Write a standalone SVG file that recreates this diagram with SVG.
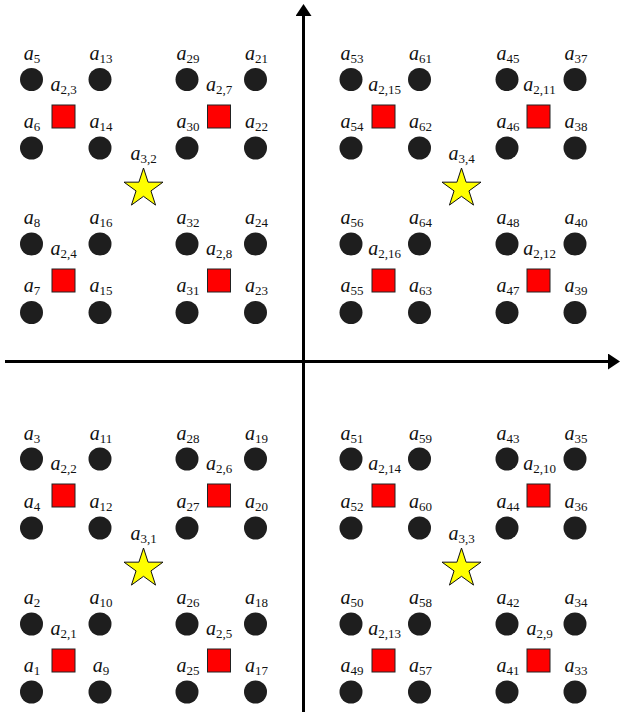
<svg xmlns="http://www.w3.org/2000/svg" xmlns:xlink="http://www.w3.org/1999/xlink" width="620" height="715" viewBox="0 0 620 715">
<style>
.pt{fill:#1e1e1e}
.sq{fill:#ff0000;stroke:#222;stroke-width:1}
.st{fill:#ffff00;stroke:#111;stroke-width:1;stroke-linejoin:miter}
text{font-family:"Liberation Serif","Times New Roman",serif;font-size:20px;fill:#111;text-anchor:middle}
.a{font-style:italic}
.s{font-size:13px}
.ax{stroke:#000;stroke-width:3;fill:none}
</style>
<defs>
<polygon id="star" class="st" points="0,-20.5 4.6,-6.33 19.5,-6.33 7.45,2.42 12.05,16.58 0,7.83 -12.05,16.58 -7.45,2.42 -19.5,-6.33 -4.6,-6.33"/>
<marker id="arr" viewBox="0 0 12 16" refX="0" refY="8" markerWidth="12" markerHeight="16" markerUnits="userSpaceOnUse" orient="auto"><path d="M0,0 L12,8 L0,16 Z" fill="#000"/></marker>
</defs>
<g id="connectors">
<line class="ax" x1="5" y1="361.5" x2="608" y2="361.5" marker-end="url(#arr)"/>
<line class="ax" x1="303.5" y1="712" x2="303.5" y2="16" marker-end="url(#arr)"/>
</g>
<!-- top-left quadrant -->
<g id="a5"><circle class="pt" cx="31.5" cy="79.5" r="11.5"/><text x="32" y="60"><tspan class="a">a</tspan><tspan class="s" dy="3">5</tspan></text></g>
<g id="a13"><circle class="pt" cx="100" cy="79.5" r="11.5"/><text x="101" y="60"><tspan class="a">a</tspan><tspan class="s" dy="3">13</tspan></text></g>
<g id="a6"><circle class="pt" cx="31.5" cy="148" r="11.5"/><text x="32" y="128"><tspan class="a">a</tspan><tspan class="s" dy="3">6</tspan></text></g>
<g id="a14"><circle class="pt" cx="100" cy="148" r="11.5"/><text x="101" y="128"><tspan class="a">a</tspan><tspan class="s" dy="3">14</tspan></text></g>
<g id="a8"><circle class="pt" cx="31.5" cy="244" r="11.5"/><text x="32" y="224"><tspan class="a">a</tspan><tspan class="s" dy="3">8</tspan></text></g>
<g id="a16"><circle class="pt" cx="100" cy="244" r="11.5"/><text x="101" y="224"><tspan class="a">a</tspan><tspan class="s" dy="3">16</tspan></text></g>
<g id="a7"><circle class="pt" cx="31.5" cy="312.5" r="11.5"/><text x="32" y="292"><tspan class="a">a</tspan><tspan class="s" dy="3">7</tspan></text></g>
<g id="a15"><circle class="pt" cx="100" cy="312.5" r="11.5"/><text x="101" y="292"><tspan class="a">a</tspan><tspan class="s" dy="3">15</tspan></text></g>
<g id="a2_3"><rect class="sq" x="52" y="105" width="23" height="23"/><text x="63.5" y="91"><tspan class="a">a</tspan><tspan class="s" dy="3">2,3</tspan></text></g>
<g id="a2_4"><rect class="sq" x="52" y="269" width="23" height="23"/><text x="63.5" y="255"><tspan class="a">a</tspan><tspan class="s" dy="3">2,4</tspan></text></g>
<g id="a29"><circle class="pt" cx="187" cy="79.5" r="11.5"/><text x="188" y="60"><tspan class="a">a</tspan><tspan class="s" dy="3">29</tspan></text></g>
<g id="a21"><circle class="pt" cx="255.5" cy="79.5" r="11.5"/><text x="256.5" y="60"><tspan class="a">a</tspan><tspan class="s" dy="3">21</tspan></text></g>
<g id="a30"><circle class="pt" cx="187" cy="148" r="11.5"/><text x="188" y="128"><tspan class="a">a</tspan><tspan class="s" dy="3">30</tspan></text></g>
<g id="a22"><circle class="pt" cx="255.5" cy="148" r="11.5"/><text x="256.5" y="128"><tspan class="a">a</tspan><tspan class="s" dy="3">22</tspan></text></g>
<g id="a32"><circle class="pt" cx="187" cy="244" r="11.5"/><text x="188" y="224"><tspan class="a">a</tspan><tspan class="s" dy="3">32</tspan></text></g>
<g id="a24"><circle class="pt" cx="255.5" cy="244" r="11.5"/><text x="256.5" y="224"><tspan class="a">a</tspan><tspan class="s" dy="3">24</tspan></text></g>
<g id="a31"><circle class="pt" cx="187" cy="312.5" r="11.5"/><text x="188" y="292"><tspan class="a">a</tspan><tspan class="s" dy="3">31</tspan></text></g>
<g id="a23"><circle class="pt" cx="255.5" cy="312.5" r="11.5"/><text x="256.5" y="292"><tspan class="a">a</tspan><tspan class="s" dy="3">23</tspan></text></g>
<g id="a2_7"><rect class="sq" x="207.5" y="105" width="23" height="23"/><text x="219" y="91"><tspan class="a">a</tspan><tspan class="s" dy="3">2,7</tspan></text></g>
<g id="a2_8"><rect class="sq" x="207.5" y="269" width="23" height="23"/><text x="219" y="255"><tspan class="a">a</tspan><tspan class="s" dy="3">2,8</tspan></text></g>
<g id="a3_2"><use xlink:href="#star" href="#star" x="143.5" y="188.5"/><text x="143.5" y="160"><tspan class="a">a</tspan><tspan class="s" dy="3">3,2</tspan></text></g>
<!-- top-right quadrant -->
<g id="a53"><circle class="pt" cx="351" cy="79.5" r="11.5"/><text x="352" y="60"><tspan class="a">a</tspan><tspan class="s" dy="3">53</tspan></text></g>
<g id="a61"><circle class="pt" cx="419.5" cy="79.5" r="11.5"/><text x="420.5" y="60"><tspan class="a">a</tspan><tspan class="s" dy="3">61</tspan></text></g>
<g id="a54"><circle class="pt" cx="351" cy="148" r="11.5"/><text x="352" y="128"><tspan class="a">a</tspan><tspan class="s" dy="3">54</tspan></text></g>
<g id="a62"><circle class="pt" cx="419.5" cy="148" r="11.5"/><text x="420.5" y="128"><tspan class="a">a</tspan><tspan class="s" dy="3">62</tspan></text></g>
<g id="a56"><circle class="pt" cx="351" cy="244" r="11.5"/><text x="352" y="224"><tspan class="a">a</tspan><tspan class="s" dy="3">56</tspan></text></g>
<g id="a64"><circle class="pt" cx="419.5" cy="244" r="11.5"/><text x="420.5" y="224"><tspan class="a">a</tspan><tspan class="s" dy="3">64</tspan></text></g>
<g id="a55"><circle class="pt" cx="351" cy="312.5" r="11.5"/><text x="352" y="292"><tspan class="a">a</tspan><tspan class="s" dy="3">55</tspan></text></g>
<g id="a63"><circle class="pt" cx="419.5" cy="312.5" r="11.5"/><text x="420.5" y="292"><tspan class="a">a</tspan><tspan class="s" dy="3">63</tspan></text></g>
<g id="a2_15"><rect class="sq" x="372" y="105" width="23" height="23"/><text x="384.5" y="91"><tspan class="a">a</tspan><tspan class="s" dy="3">2,15</tspan></text></g>
<g id="a2_16"><rect class="sq" x="372" y="269" width="23" height="23"/><text x="384.5" y="255"><tspan class="a">a</tspan><tspan class="s" dy="3">2,16</tspan></text></g>
<g id="a45"><circle class="pt" cx="507" cy="79.5" r="11.5"/><text x="508" y="60"><tspan class="a">a</tspan><tspan class="s" dy="3">45</tspan></text></g>
<g id="a37"><circle class="pt" cx="575" cy="79.5" r="11.5"/><text x="576" y="60"><tspan class="a">a</tspan><tspan class="s" dy="3">37</tspan></text></g>
<g id="a46"><circle class="pt" cx="507" cy="148" r="11.5"/><text x="508" y="128"><tspan class="a">a</tspan><tspan class="s" dy="3">46</tspan></text></g>
<g id="a38"><circle class="pt" cx="575" cy="148" r="11.5"/><text x="576" y="128"><tspan class="a">a</tspan><tspan class="s" dy="3">38</tspan></text></g>
<g id="a48"><circle class="pt" cx="507" cy="244" r="11.5"/><text x="508" y="224"><tspan class="a">a</tspan><tspan class="s" dy="3">48</tspan></text></g>
<g id="a40"><circle class="pt" cx="575" cy="244" r="11.5"/><text x="576" y="224"><tspan class="a">a</tspan><tspan class="s" dy="3">40</tspan></text></g>
<g id="a47"><circle class="pt" cx="507" cy="312.5" r="11.5"/><text x="508" y="292"><tspan class="a">a</tspan><tspan class="s" dy="3">47</tspan></text></g>
<g id="a39"><circle class="pt" cx="575" cy="312.5" r="11.5"/><text x="576" y="292"><tspan class="a">a</tspan><tspan class="s" dy="3">39</tspan></text></g>
<g id="a2_11"><rect class="sq" x="527" y="105" width="23" height="23"/><text x="539.5" y="91"><tspan class="a">a</tspan><tspan class="s" dy="3">2,11</tspan></text></g>
<g id="a2_12"><rect class="sq" x="527" y="269" width="23" height="23"/><text x="539.5" y="255"><tspan class="a">a</tspan><tspan class="s" dy="3">2,12</tspan></text></g>
<g id="a3_4"><use xlink:href="#star" href="#star" x="461.5" y="188.5"/><text x="461.5" y="160"><tspan class="a">a</tspan><tspan class="s" dy="3">3,4</tspan></text></g>
<!-- bottom-left quadrant -->
<g id="a3"><circle class="pt" cx="31.5" cy="459" r="11.5"/><text x="32" y="439.5"><tspan class="a">a</tspan><tspan class="s" dy="3">3</tspan></text></g>
<g id="a11"><circle class="pt" cx="100" cy="459" r="11.5"/><text x="101" y="439.5"><tspan class="a">a</tspan><tspan class="s" dy="3">11</tspan></text></g>
<g id="a4"><circle class="pt" cx="31.5" cy="528" r="11.5"/><text x="32" y="508"><tspan class="a">a</tspan><tspan class="s" dy="3">4</tspan></text></g>
<g id="a12"><circle class="pt" cx="100" cy="528" r="11.5"/><text x="101" y="508"><tspan class="a">a</tspan><tspan class="s" dy="3">12</tspan></text></g>
<g id="a2"><circle class="pt" cx="31.5" cy="624" r="11.5"/><text x="32" y="604"><tspan class="a">a</tspan><tspan class="s" dy="3">2</tspan></text></g>
<g id="a10"><circle class="pt" cx="100" cy="624" r="11.5"/><text x="101" y="604"><tspan class="a">a</tspan><tspan class="s" dy="3">10</tspan></text></g>
<g id="a1"><circle class="pt" cx="31.5" cy="692" r="11.5"/><text x="32" y="672"><tspan class="a">a</tspan><tspan class="s" dy="3">1</tspan></text></g>
<g id="a9"><circle class="pt" cx="100" cy="692" r="11.5"/><text x="101" y="672"><tspan class="a">a</tspan><tspan class="s" dy="3">9</tspan></text></g>
<g id="a2_2"><rect class="sq" x="52" y="484" width="23" height="23"/><text x="63.5" y="470"><tspan class="a">a</tspan><tspan class="s" dy="3">2,2</tspan></text></g>
<g id="a2_1"><rect class="sq" x="52" y="649" width="23" height="23"/><text x="63.5" y="635"><tspan class="a">a</tspan><tspan class="s" dy="3">2,1</tspan></text></g>
<g id="a28"><circle class="pt" cx="187" cy="459" r="11.5"/><text x="188" y="439.5"><tspan class="a">a</tspan><tspan class="s" dy="3">28</tspan></text></g>
<g id="a19"><circle class="pt" cx="255.5" cy="459" r="11.5"/><text x="256.5" y="439.5"><tspan class="a">a</tspan><tspan class="s" dy="3">19</tspan></text></g>
<g id="a27"><circle class="pt" cx="187" cy="528" r="11.5"/><text x="188" y="508"><tspan class="a">a</tspan><tspan class="s" dy="3">27</tspan></text></g>
<g id="a20"><circle class="pt" cx="255.5" cy="528" r="11.5"/><text x="256.5" y="508"><tspan class="a">a</tspan><tspan class="s" dy="3">20</tspan></text></g>
<g id="a26"><circle class="pt" cx="187" cy="624" r="11.5"/><text x="188" y="604"><tspan class="a">a</tspan><tspan class="s" dy="3">26</tspan></text></g>
<g id="a18"><circle class="pt" cx="255.5" cy="624" r="11.5"/><text x="256.5" y="604"><tspan class="a">a</tspan><tspan class="s" dy="3">18</tspan></text></g>
<g id="a25"><circle class="pt" cx="187" cy="692" r="11.5"/><text x="188" y="672"><tspan class="a">a</tspan><tspan class="s" dy="3">25</tspan></text></g>
<g id="a17"><circle class="pt" cx="255.5" cy="692" r="11.5"/><text x="256.5" y="672"><tspan class="a">a</tspan><tspan class="s" dy="3">17</tspan></text></g>
<g id="a2_6"><rect class="sq" x="207.5" y="484" width="23" height="23"/><text x="219" y="470"><tspan class="a">a</tspan><tspan class="s" dy="3">2,6</tspan></text></g>
<g id="a2_5"><rect class="sq" x="207.5" y="649" width="23" height="23"/><text x="219" y="635"><tspan class="a">a</tspan><tspan class="s" dy="3">2,5</tspan></text></g>
<g id="a3_1"><use xlink:href="#star" href="#star" x="143.5" y="568.5"/><text x="143.5" y="540"><tspan class="a">a</tspan><tspan class="s" dy="3">3,1</tspan></text></g>
<!-- bottom-right quadrant -->
<g id="a51"><circle class="pt" cx="351" cy="459" r="11.5"/><text x="352" y="439.5"><tspan class="a">a</tspan><tspan class="s" dy="3">51</tspan></text></g>
<g id="a59"><circle class="pt" cx="419.5" cy="459" r="11.5"/><text x="420.5" y="439.5"><tspan class="a">a</tspan><tspan class="s" dy="3">59</tspan></text></g>
<g id="a52"><circle class="pt" cx="351" cy="528" r="11.5"/><text x="352" y="508"><tspan class="a">a</tspan><tspan class="s" dy="3">52</tspan></text></g>
<g id="a60"><circle class="pt" cx="419.5" cy="528" r="11.5"/><text x="420.5" y="508"><tspan class="a">a</tspan><tspan class="s" dy="3">60</tspan></text></g>
<g id="a50"><circle class="pt" cx="351" cy="624" r="11.5"/><text x="352" y="604"><tspan class="a">a</tspan><tspan class="s" dy="3">50</tspan></text></g>
<g id="a58"><circle class="pt" cx="419.5" cy="624" r="11.5"/><text x="420.5" y="604"><tspan class="a">a</tspan><tspan class="s" dy="3">58</tspan></text></g>
<g id="a49"><circle class="pt" cx="351" cy="692" r="11.5"/><text x="352" y="672"><tspan class="a">a</tspan><tspan class="s" dy="3">49</tspan></text></g>
<g id="a57"><circle class="pt" cx="419.5" cy="692" r="11.5"/><text x="420.5" y="672"><tspan class="a">a</tspan><tspan class="s" dy="3">57</tspan></text></g>
<g id="a2_14"><rect class="sq" x="372" y="484" width="23" height="23"/><text x="384.5" y="470"><tspan class="a">a</tspan><tspan class="s" dy="3">2,14</tspan></text></g>
<g id="a2_13"><rect class="sq" x="372" y="649" width="23" height="23"/><text x="384.5" y="635"><tspan class="a">a</tspan><tspan class="s" dy="3">2,13</tspan></text></g>
<g id="a43"><circle class="pt" cx="507" cy="459" r="11.5"/><text x="508" y="439.5"><tspan class="a">a</tspan><tspan class="s" dy="3">43</tspan></text></g>
<g id="a35"><circle class="pt" cx="575" cy="459" r="11.5"/><text x="576" y="439.5"><tspan class="a">a</tspan><tspan class="s" dy="3">35</tspan></text></g>
<g id="a44"><circle class="pt" cx="507" cy="528" r="11.5"/><text x="508" y="508"><tspan class="a">a</tspan><tspan class="s" dy="3">44</tspan></text></g>
<g id="a36"><circle class="pt" cx="575" cy="528" r="11.5"/><text x="576" y="508"><tspan class="a">a</tspan><tspan class="s" dy="3">36</tspan></text></g>
<g id="a42"><circle class="pt" cx="507" cy="624" r="11.5"/><text x="508" y="604"><tspan class="a">a</tspan><tspan class="s" dy="3">42</tspan></text></g>
<g id="a34"><circle class="pt" cx="575" cy="624" r="11.5"/><text x="576" y="604"><tspan class="a">a</tspan><tspan class="s" dy="3">34</tspan></text></g>
<g id="a41"><circle class="pt" cx="507" cy="692" r="11.5"/><text x="508" y="672"><tspan class="a">a</tspan><tspan class="s" dy="3">41</tspan></text></g>
<g id="a33"><circle class="pt" cx="575" cy="692" r="11.5"/><text x="576" y="672"><tspan class="a">a</tspan><tspan class="s" dy="3">33</tspan></text></g>
<g id="a2_10"><rect class="sq" x="527" y="484" width="23" height="23"/><text x="539.5" y="470"><tspan class="a">a</tspan><tspan class="s" dy="3">2,10</tspan></text></g>
<g id="a2_9"><rect class="sq" x="527" y="649" width="23" height="23"/><text x="539.5" y="635"><tspan class="a">a</tspan><tspan class="s" dy="3">2,9</tspan></text></g>
<g id="a3_3"><use xlink:href="#star" href="#star" x="461.5" y="568.5"/><text x="461.5" y="540"><tspan class="a">a</tspan><tspan class="s" dy="3">3,3</tspan></text></g>
</svg>
